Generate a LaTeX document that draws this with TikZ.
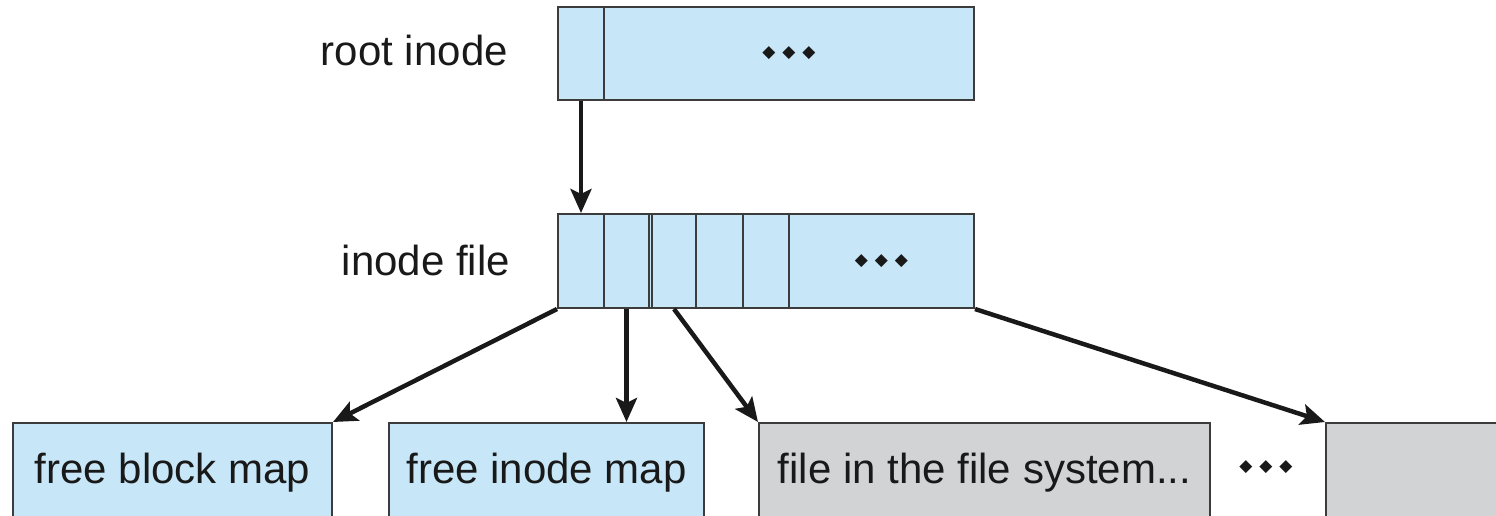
\documentclass[tikz,border=0pt]{standalone}
\usepackage{fontspec}
\setmainfont{Liberation Sans}
\newfontfamily\dotfont{DejaVu Sans}
\usetikzlibrary{arrows.meta}
\definecolor{boxblue}{RGB}{199,231,248}
\definecolor{boxgrey}{RGB}{209,211,213}
\definecolor{edgegrey}{RGB}{60,60,60}
\definecolor{ink}{RGB}{25,25,25}
\newcommand{\dotrow}{{\dotfont\fontsize{17}{17}\selectfont\makebox[20pt]{◆}\makebox[20pt]{◆}\makebox[20pt]{◆}}}
\begin{document}
\begin{tikzpicture}[x=1pt,y=-1pt,
  cellbox/.style={draw=edgegrey, line width=2pt, inner sep=0pt, anchor=north west, text=ink},
  bluecell/.style={cellbox, fill=boxblue},
  greycell/.style={cellbox, fill=boxgrey},
  bigtext/.style={font=\fontsize{42}{50}\selectfont},
  lbl/.style={bigtext, text=ink, inner sep=0pt, anchor=base east},
  arr/.style={draw=ink, line width=4.5pt, -{Stealth[length=24pt,width=21pt,inset=5pt]}}
]
\useasboundingbox (0,0) rectangle (1496,515);

% labels
\node[lbl] (rootlbl) at (508,65) {root inode};
\node[lbl] (filelbl) at (510,275) {inode file};

% root inode
\node[bluecell, minimum width=46pt, minimum height=93pt] (r1) at (557,6) {};
\node[bluecell, minimum width=370pt, minimum height=93pt] (r2) at (603,6) {\dotrow};

% inode file
\node[bluecell, minimum width=416pt, minimum height=94pt] (ifile) at (557,213) {};
\node[cellbox, minimum width=46pt, minimum height=94pt] (i1) at (557,213) {};
\node[cellbox, minimum width=45pt, minimum height=94pt] (i2) at (603,213) {};
\node[cellbox, minimum width=44pt, minimum height=94pt] (i3) at (651,213) {};
\node[cellbox, minimum width=47pt, minimum height=94pt] (i4) at (695,213) {};
\node[cellbox, minimum width=46pt, minimum height=94pt] (i5) at (742,213) {};
\node[cellbox, minimum width=185pt, minimum height=94pt] (i6) at (788,213) {\dotrow};

% bottom row
\node[bluecell, bigtext, minimum width=319pt, minimum height=100pt] (fbm) at (12,422) {free block map};
\node[bluecell, bigtext, minimum width=315pt, minimum height=100pt] (fim) at (388,422) {free inode map};
\node[greycell, bigtext, minimum width=451pt, minimum height=100pt] (fs) at (758,422) {file in the file system...};
\node[inner sep=0pt, text=ink] (more) at (1266,467) {\dotrow};
\node[greycell, minimum width=200pt, minimum height=100pt] (last) at (1325,422) {};

% arrows
\draw[arr] (r1.south) -- (i1.north);
\draw[arr] (i1.south west) -- (fbm.north east);
\draw[arr] (i2.south) -- (i2.south |- fim.north);
\draw[arr] (i3.south) -- (fs.north west);
\draw[arr] (i6.south east) -- (last.north west);
\end{tikzpicture}
\end{document}
